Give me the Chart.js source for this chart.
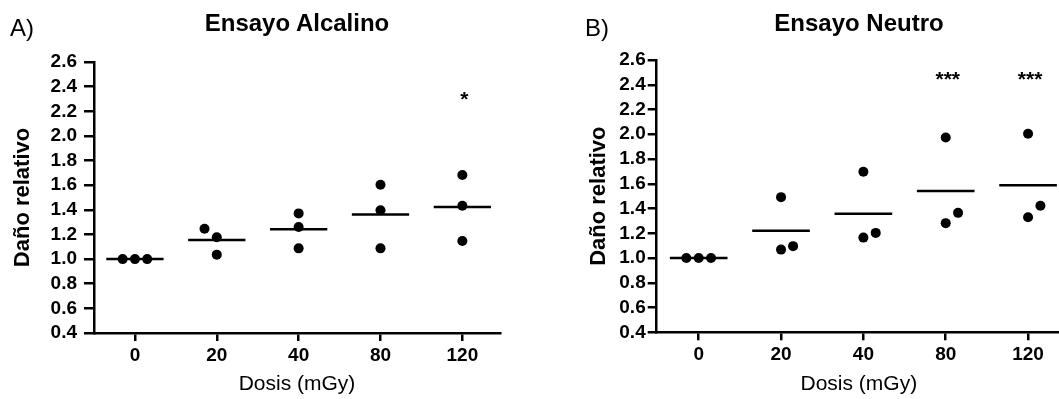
<!DOCTYPE html>
<html>
<head>
<meta charset="utf-8">
<script src="https://cdn.jsdelivr.net/npm/chart.js@4.4.1/dist/chart.umd.min.js"></script>
<style>
body { margin:0; width:1059px; height:399px; overflow:hidden; position:relative; background:#fff; font-family:'Liberation Sans', Arial, sans-serif; color:#000; }
canvas { position:absolute; top:0; }
.tag { position:absolute; font-size:24px; line-height:24px; }
.title { position:absolute; width:400px; text-align:center; font-size:24px; line-height:24px; font-weight:bold; }
</style>
</head>
<body>
<canvas id="chartA" width="530" height="399" style="left:0"></canvas>
<canvas id="chartB" width="540" height="399" style="left:530px"></canvas>
<div class="tag" style="left:10px;top:16px">A)</div>
<div class="tag" style="left:585px;top:16px">B)</div>
<div class="title" style="left:97px;top:11px">Ensayo Alcalino</div>
<div class="title" style="left:659px;top:11px">Ensayo Neutro</div>
<script>
// categorias y ejes
const doses = ['0', '20', '40', '80', '120']
const yTicks = [0.4, 0.6, 0.8, 1.0, 1.2, 1.4, 1.6, 1.8, 2.0, 2.2, 2.4, 2.6]

// A) ensayo alcalino: tres replicas por dosis
const alcalinoValues = [[1.0, 1.0, 1.0], [1.247, 1.177, 1.036], [1.371, 1.260, 1.087], [1.604, 1.396, 1.087], [1.682, 1.433, 1.147]]
const alcalinoJitter = [[-0.15, 0, 0.15], [-0.15, 0, 0], [0, 0, 0], [0, 0, 0], [0, 0, 0]]
const alcalinoMeans = [1.0, 1.155, 1.242, 1.363, 1.423]
const alcalinoStars = ['', '', '', '', '*']
const alcalinoStarLevel = 2.32

// B) ensayo neutro
const neutroValues = [[1.0, 1.0, 1.0], [1.492, 1.068, 1.096], [1.697, 1.165, 1.203], [1.974, 1.282, 1.365], [2.004, 1.330, 1.422]]
const neutroJitter = [[-0.15, 0, 0.15], [0, 0, 0.146], [0, 0, 0.15], [0, 0, 0.15], [0, 0, 0.15]]
const neutroMeans = [1.0, 1.220, 1.357, 1.541, 1.589]
const neutroStars = ['', '', '', '***', '***']
const neutroStarLevel = 2.47

Chart.defaults.font.family = "'Liberation Sans', Arial, sans-serif"
Chart.defaults.color = '#000'

// dibuja los asteriscos de significancia encima de cada grupo
const starsPlugin = {
    id: 'stars',
    afterDatasetsDraw(chart, args, opts) {
        const ctx = chart.ctx
        const x = chart.scales.x
        const y = chart.scales.y
        ctx.save()
        ctx.font = "bold 21px 'Liberation Sans', Arial, sans-serif"
        ctx.fillStyle = '#000'
        ctx.textAlign = 'center'
        ctx.textBaseline = 'alphabetic'
        opts.labels.forEach((txt, i) => {
            if (!txt) return
            const m = ctx.measureText(txt)
            const cy = y.getPixelForValue(opts.level)
            ctx.fillText(txt, x.getPixelForValue(i) + 2, cy + (m.actualBoundingBoxAscent - m.actualBoundingBoxDescent) / 2)
        })
        ctx.restore()
    }
}

function makeChart(id, values, jitter, means, stars, starLevel, lay) {
    const points = []
    values.forEach((grp, i) => grp.forEach((v, k) => points.push({ x: i + jitter[i][k], y: v })))

    const datasets = [{
        type: 'scatter',
        data: points,
        pointRadius: 5,
        pointHoverRadius: 5,
        backgroundColor: '#000',
        borderColor: '#000',
        borderWidth: 0
    }]
    means.forEach((m, i) => {
        datasets.push({
            type: 'line',
            data: [{ x: i - 0.35, y: m }, { x: i + 0.35, y: m }],
            borderColor: '#000',
            borderWidth: 2.5,
            pointRadius: 0,
            fill: false
        })
    })

    return new Chart(document.getElementById(id), {
        type: 'scatter',
        data: { datasets: datasets },
        plugins: [starsPlugin],
        options: {
            responsive: false,
            animation: false,
            layout: { padding: lay.padding },
            plugins: {
                legend: { display: false },
                tooltip: { enabled: false },
                stars: { labels: stars, level: starLevel }
            },
            scales: {
                x: {
                    type: 'linear',
                    min: lay.xMin,
                    max: lay.xMax,
                    afterBuildTicks: s => { s.ticks = doses.map((d, i) => ({ value: i })) },
                    afterFit: s => { s.height = lay.xHeight },
                    border: { color: '#000', width: 2.5 },
                    grid: { drawOnChartArea: false, tickLength: 8, color: '#000', lineWidth: 2.5 },
                    ticks: { callback: v => doses[v], autoSkip: false, maxRotation: 0, padding: 3, font: { size: 19, weight: 'bold' } },
                    title: { display: true, text: 'Dosis (mGy)', font: { size: 21 }, padding: { top: 0, bottom: 2 } }
                },
                y: {
                    min: 0.4,
                    max: 2.6,
                    afterBuildTicks: s => { s.ticks = yTicks.map(v => ({ value: v })) },
                    afterFit: s => { s.width = lay.yWidth },
                    border: { color: '#000', width: 2.5 },
                    grid: { drawOnChartArea: false, tickLength: lay.yTick, color: '#000', lineWidth: 2.5 },
                    ticks: { callback: v => v.toFixed(1), autoSkip: false, padding: lay.yPad, font: { size: 19, weight: 'bold' } },
                    title: { display: true, text: 'Daño relativo', font: { size: 22, weight: 'bold' }, padding: { top: lay.yTitlePad, bottom: 0 } }
                }
            }
        }
    })
}

makeChart('chartA', alcalinoValues, alcalinoJitter, alcalinoMeans, alcalinoStars, alcalinoStarLevel, {
    padding: { left: 0, top: 62, right: 30, bottom: 0 },
    xMin: -0.5, xMax: 4.46, xHeight: 66, yWidth: 94, yTick: 10, yPad: 7, yTitlePad: 10
})
makeChart('chartB', neutroValues, neutroJitter, neutroMeans, neutroStars, neutroStarLevel, {
    padding: { left: 0, top: 60, right: 9, bottom: 0 },
    xMin: -0.51, xMax: 4.40, xHeight: 66.7, yWidth: 126.7, yTick: 9, yPad: 2, yTitlePad: 56
})
</script>
</body>
</html>
